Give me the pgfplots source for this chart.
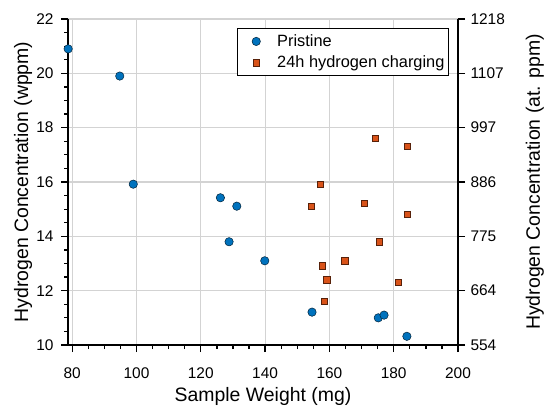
\documentclass[border=0pt]{standalone}
\usepackage{pgfplots}
\pgfplotsset{compat=1.18}
\usepackage{fontspec}
\setmainfont{Liberation Sans}
\definecolor{mblue}{HTML}{0072BD}
\definecolor{morange}{HTML}{D95319}
\definecolor{gridc}{HTML}{D3D3D3}
\begin{document}
\begin{tikzpicture}
\pgfplotsset{
  common/.style={
    scale only axis, width=390bp, height=326bp,
    xmin=78.7, xmax=200, ymin=10, ymax=22,
    /pgf/number format/assume math mode=true,
    tick label style={font=\fontsize{15.5}{15.5}\selectfont},
    label style={font=\fontsize{19.5}{19.5}\selectfont},
    tick align=outside,
    major tick length=7bp, minor tick length=4bp,
    every tick/.style={black, line width=1.3bp},
    axis line style={line width=1.5bp, black},
  },
  limg/.style={legend image code/.code={\path[draw=none,fill=none] (0bp,0bp) -- (36bp,0bp); \draw[mark repeat=2,mark phase=2,##1,draw=none] plot coordinates {(0bp,0bp) (17bp,0bp) (36bp,0bp)};}},
}
\begin{axis}[common, name=ax,
  axis x line*=bottom, axis y line*=left,
  xtick={80,100,...,200}, minor x tick num=3,
  ytick={10,12,...,22}, minor y tick num=3,
  xticklabel style={yshift=-12bp},
  yticklabel style={xshift=-4bp},
  grid=major, major grid style={gridc, line width=1.1bp},
  xlabel={Sample Weight (mg)},
  ylabel={Hydrogen Concentration (wppm)},
  xlabel style={at={(axis description cs:0.5,-0.1564)}, anchor=center},
  ylabel style={at={(axis description cs:-0.1154,0.5)}, anchor=center},
  legend cell align=left,
  legend style={at={(0.977,0.972)}, anchor=north east, draw=black, line width=1.3bp,
    font=\fontsize{16.4}{16.4}\selectfont, inner xsep=2bp, inner ysep=4bp, row sep=4bp},
]
\addplot[only marks, mark=*, mark size=4.2bp, mark options={fill=mblue, draw=black!70!mblue, line width=0.5bp}, limg] coordinates {
(78.75,20.9) (94.8,19.9) (99.0,15.92) (126.1,15.42) (131.2,15.11) (128.8,13.8)
(139.9,13.1) (154.6,11.21) (175.2,11.0) (177.0,11.1) (184.1,10.32)
};
\addlegendentry{Pristine}
\addplot[only marks, mark=square*, mark size=3.1bp, mark options={fill=morange, draw=black!60!morange, line width=0.5bp}, limg] coordinates {
(174.2,17.61) (184.3,17.32) (157.2,15.92) (154.4,15.11) (170.8,15.22) (184.1,14.8)
(175.4,13.8) (164.8,13.1) (157.8,12.92) (159.2,12.4) (181.3,12.32) (158.4,11.6)
};
\addlegendentry{24h hydrogen charging}
\end{axis}
\begin{axis}[common,
  axis x line=none, axis y line*=right,
  ytick={10,12,...,22},
  yticklabels={554,664,775,886,997,1107,1218},
  yticklabel style={xshift=2bp},
  ylabel={Hydrogen Concentration (at. ppm)},
  ylabel style={at={(axis description cs:1.197,0.5)}, anchor=center, rotate=0},
]
\addplot[draw=none] coordinates {(100,12)};
\end{axis}
\pgfresetboundingbox
\path ([xshift=-68bp,yshift=-61bp]ax.south west) rectangle ([xshift=86bp,yshift=19bp]ax.north east);
\end{tikzpicture}
\end{document}
